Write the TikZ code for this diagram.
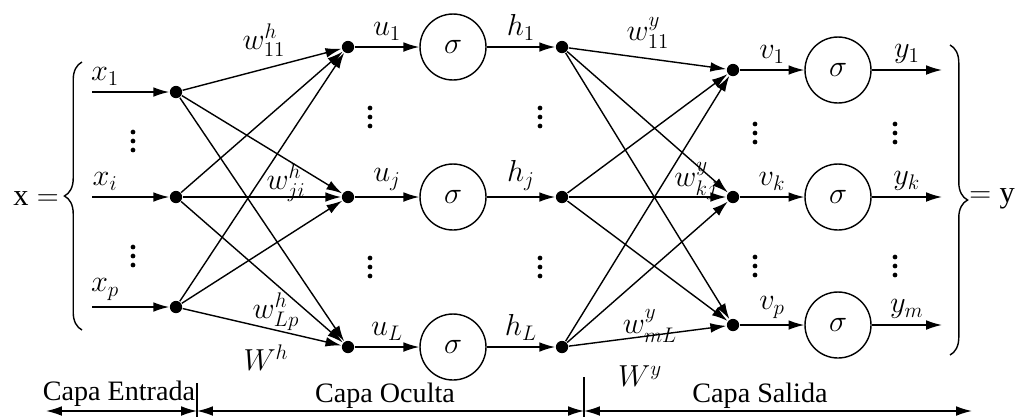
\documentclass[tikz,border=0pt]{standalone}
\usepackage{amsmath}
\usepackage{fontspec}
\setmainfont{Liberation Serif}
\usepackage{tikz}
\usetikzlibrary{arrows.meta,decorations.pathreplacing}

\tikzset{
  vdts/.pic={\foreach \k in {-1,0,1} \fill (0,\k*9) circle (1.35pt);}
}

\begin{document}
\begin{tikzpicture}[x=0.02cm, y=-0.02cm, font=\LARGE, line width=0.8pt, >={Latex[length=9pt,width=5.5pt]},
  dot/.style={circle, fill, inner sep=0pt, minimum size=7pt},
  act/.style={draw, circle, inner sep=0pt, minimum size=1.32cm},
  wlbl/.style={inner sep=1pt},
  capa/.style={inner sep=1pt, font=\fontsize{16}{19}\selectfont}]
\useasboundingbox (0,0) rectangle (1017,417);

% entrada
\node[dot] (i1) at (176,92)  {};
\node[dot] (ii) at (176,197) {};
\node[dot] (ip) at (176,307) {};
\coordinate (x1) at (92,92);
\coordinate (xi) at (92,197);
\coordinate (xp) at (92,307);
\draw[->] (x1) -- node[above, pos=0.17] {$x_1$} (i1);
\draw[->] (xi) -- node[above, pos=0.17] {$x_i$} (ii);
\draw[->] (xp) -- node[above, pos=0.17] {$x_p$} (ip);
\pic at (133,141) {vdts};
\pic at (133,256) {vdts};
\node (xeq) at (36,199) {$\mathrm{x} =$};
\draw[decorate, decoration={brace, amplitude=10pt}] (82,330) -- (82,62);

% oculta
\node[dot] (a1) at (348,47)  {};
\node[dot] (aj) at (348,197) {};
\node[dot] (aL) at (348,347) {};
\node[act] (s1) at (453,47)  {$\sigma$};
\node[act] (sj) at (453,197) {$\sigma$};
\node[act] (sL) at (453,347) {$\sigma$};
\node[dot] (b1) at (562,47)  {};
\node[dot] (bj) at (562,197) {};
\node[dot] (bL) at (562,347) {};
\draw[->] (a1) -- node[above] {$u_1$} (s1);
\draw[->] (aj) -- node[above] {$u_j$} (sj);
\draw[->] (aL) -- node[above] {$u_L$} (sL);
\draw[->] (s1) -- node[above] {$h_1$} (b1);
\draw[->] (sj) -- node[above] {$h_j$} (bj);
\draw[->] (sL) -- node[above] {$h_L$} (bL);
\pic at (370,117) {vdts};
\pic at (370,267) {vdts};
\pic at (540,117) {vdts};
\pic at (540,267) {vdts};

\foreach \a in {i1,ii,ip}
  \foreach \b in {a1,aj,aL}
    \draw[->] (\a) -- (\b);

\node[wlbl] (w11) at (264,40)  {$w^h_{11}$};
\node[wlbl] (wji) at (286,183) {$w^h_{ji}$};
\node[wlbl] (wLp) at (276,312) {$w^h_{Lp}$};
\node[wlbl] (Wh)  at (266,358) {$W^h$};

% salida
\node[dot] (c1) at (733,70)  {};
\node[dot] (ck) at (733,197) {};
\node[dot] (cp) at (733,325) {};
\node[act] (t1) at (838,70)  {$\sigma$};
\node[act] (tk) at (838,197) {$\sigma$};
\node[act] (tp) at (838,325) {$\sigma$};
\coordinate (y1) at (942,70);
\coordinate (yk) at (942,197);
\coordinate (ym) at (942,325);
\draw[->] (c1) -- node[above] {$v_1$} (t1);
\draw[->] (ck) -- node[above] {$v_k$} (tk);
\draw[->] (cp) -- node[above] {$v_p$} (tp);
\draw[->] (t1) -- node[above] {$y_1$} (y1);
\draw[->] (tk) -- node[above] {$y_k$} (yk);
\draw[->] (tp) -- node[above] {$y_m$} (ym);
\pic at (755,133) {vdts};
\pic at (755,266) {vdts};
\pic at (895,133) {vdts};
\pic at (895,266) {vdts};

\foreach \a in {b1,bj,bL}
  \foreach \b in {c1,ck,cp}
    \draw[->] (\a) -- (\b);

\node[wlbl] (v11) at (648,33)  {$w^y_{11}$};
\node[wlbl] (vkj) at (696,181) {$w^y_{kj}$};
\node[wlbl] (vmL) at (650,326) {$w^y_{mL}$};
\node[wlbl] (Wy)  at (640,376) {$W^y$};

\draw[decorate, decoration={brace, amplitude=10pt}] (950,45) -- (950,355);
\node (yeq) at (992,199) {$= \mathrm{y}$};

% capas
\node[capa] (ent) at (119,394) {Capa Entrada};
\node[capa] (ocu) at (385,396) {Capa Oculta};
\node[capa] (sal) at (760,396) {Capa Salida};
\coordinate (l0) at (46,411);
\coordinate (l1) at (197,411);
\coordinate (l2) at (584,411);
\coordinate (l3) at (972,411);
\draw[<->] (l0) -- (l1);
\draw[<->] (l1) -- (l2);
\draw[<->] (l2) -- (l3);
\draw (197,383) -- (197,417);
\draw (584,377) -- (584,417);
\end{tikzpicture}
\end{document}
